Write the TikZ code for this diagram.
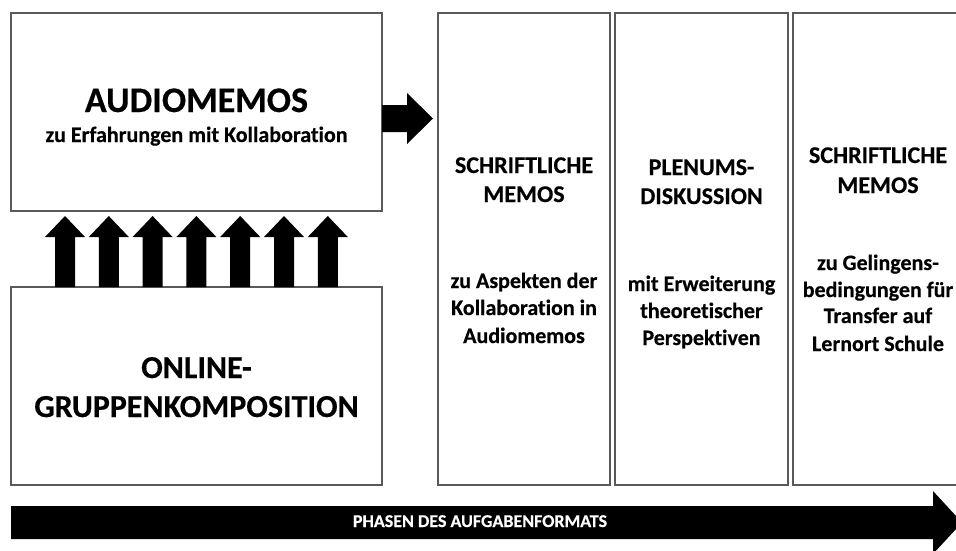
\documentclass[tikz,border=0pt]{standalone}
\usepackage{fontspec}
\setmainfont{Carlito}[Ligatures=NoCommon]
\newfontfamily\cbold{Carlito Bold}[Ligatures=NoCommon,FakeBold=0.4]
\begin{document}
\begin{tikzpicture}[x=1pt,y=-1pt,
  box/.style={draw=black!65,line width=1.3pt,fill=white},
  col/.style={draw=black!65,line width=1.3pt,fill=white},
  txt/.style={align=center,inner sep=0pt},
  blockarrow/.style={fill=black}]
\useasboundingbox (0,0) rectangle (956,550);
\clip (0,0) rectangle (956,550);
% left boxes
\draw[box] (11,13) rectangle (382,211);
\draw[box] (11,287) rectangle (382,485);
\node[txt,anchor=base,font=\fontsize{36}{36}\cbold] (audio) at (196.5,112) {AUDIOMEMOS};
\node[txt,anchor=base,font=\fontsize{22}{22}\cbold] (audiosub) at (196.5,142) {zu Erfahrungen mit Kollaboration};
\node[txt,anchor=base,font=\fontsize{32}{32}\cbold] (online1) at (196.5,378) {ONLINE-};
\node[txt,anchor=base,font=\fontsize{32}{32}\cbold] (online2) at (196.5,417) {GRUPPENKOMPOSITION};
% up arrows
\foreach \i in {0,...,6}{
  \pgfmathsetmacro{\cx}{65+43.8*\i}
  \fill[blockarrow] (\cx-10,287) -- (\cx-10,237) -- (\cx-20,237) -- (\cx,216) -- (\cx+20,237) -- (\cx+10,237) -- (\cx+10,287) -- cycle;
}
% right arrow
\fill[blockarrow] (382,105) -- (407,105) -- (407,93) -- (433,118.5) -- (407,144) -- (407,132) -- (382,132) -- cycle;
% columns
\draw[col] (438,13) rectangle (610,485);
\draw[col] (615,13) rectangle (788,485);
\draw[col] (793,13) rectangle (966,485);
\def\hs{\fontsize{24}{29}\cbold}
\def\bs{\fontsize{22}{27}\cbold}
\node[txt,anchor=base,font=\hs] (c1a) at (524,173) {SCHRIFTLICHE};
\node[txt,anchor=base,font=\hs] (c1b) at (524,202) {MEMOS};
\node[txt,anchor=base,font=\bs] (c1c) at (524,288) {zu Aspekten der};
\node[txt,anchor=base,font=\bs] (c1d) at (524,315) {Kollaboration in};
\node[txt,anchor=base,font=\bs] (c1e) at (524,343) {Audiomemos};
\node[txt,anchor=base,font=\hs] (c2a) at (701.5,175) {PLENUMS-};
\node[txt,anchor=base,font=\hs] (c2b) at (701.5,204) {DISKUSSION};
\node[txt,anchor=base,font=\bs] (c2c) at (701.5,291) {mit Erweiterung};
\node[txt,anchor=base,font=\bs] (c2d) at (701.5,318) {theoretischer};
\node[txt,anchor=base,font=\bs] (c2e) at (701.5,345) {Perspektiven};
\node[txt,anchor=base,font=\hs] (c3a) at (878,163) {SCHRIFTLICHE};
\node[txt,anchor=base,font=\hs] (c3b) at (878,193) {MEMOS};
\node[txt,anchor=base,font=\bs] (c3c) at (878,270) {zu Gelingens-};
\node[txt,anchor=base,font=\bs] (c3d) at (878,297) {bedingungen für};
\node[txt,anchor=base,font=\bs] (c3e) at (878,323) {Transfer auf};
\node[txt,anchor=base,font=\bs] (c3f) at (878,351) {Lernort Schule};
% bottom arrow
\fill[blockarrow] (11,506) -- (933,506) -- (933,491) -- (962,522.5) -- (933,554) -- (933,539) -- (11,539) -- cycle;
\node[txt,anchor=base,text=white,font=\fontsize{18}{18}\cbold] (phasen) at (480,527) {PHASEN DES AUFGABENFORMATS};
\end{tikzpicture}
\end{document}
